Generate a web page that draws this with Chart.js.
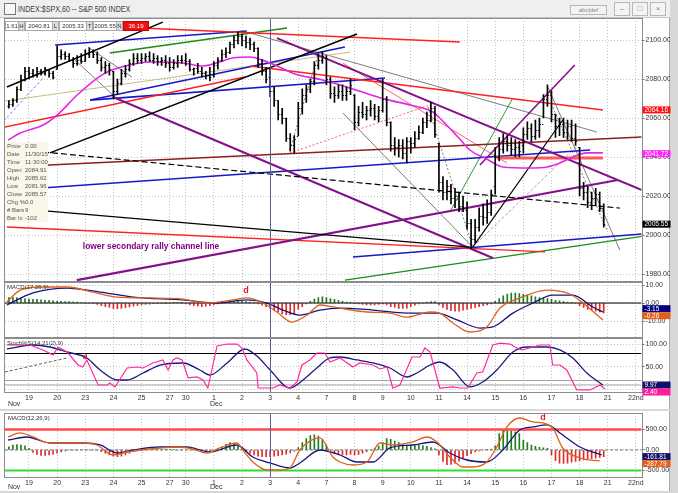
<!DOCTYPE html>
<html>
<head>
<meta charset="utf-8">
<script src="https://cdn.jsdelivr.net/npm/chart.js@4.4.1/dist/chart.umd.min.js"></script>
<style>
  html, body { margin: 0; padding: 0; }
  body { width: 678px; height: 493px; position: relative; overflow: hidden; background: #d8d8d8;
         font-family: "Liberation Sans", Arial, sans-serif; }
  canvas { position: absolute; left: 0; }
  .win { position: absolute; left: 0; width: 669px; background: #fff; border-right: 1px solid #a8a8a8; }
  #title { position: absolute; left: 0; top: 0; width: 670px; height: 17px; background: #efefef;
           border-bottom: 1px solid #c4c4c4; font-size: 9.5px; color: #404040; }
  #title .txt { position: absolute; left: 18px; top: 3px; white-space: nowrap; transform: scaleX(0.75); transform-origin: left top; }
  #title .ico { position: absolute; left: 4px; top: 3px; width: 10px; height: 10px; border: 1px solid #777; background: #f8f8f8; }
  .btn { position: absolute; top: 2px; width: 14px; height: 12px; border: 1px solid #b8b8b8; background: #f4f4f4;
         font-size: 8px; color: #888; text-align: center; line-height: 12px; }
  #info { position: absolute; top: 21px; left: 5px; height: 9px; font-size: 6px; color: #333; }
  #info span { position: absolute; top: 0; height: 8px; line-height: 8px; border: 1px solid #aaa; text-align: center; }
  #info .lab { background: #dcdcdc; width: 5px; }
  #info .val { background: #fff; }
  #tip { position: absolute; left: 5px; top: 142px; width: 43px; height: 80px; background: #fbf6ea;
         font-size: 6px; line-height: 8px; color: #555; }
  #tip div { position: relative; height: 8px; }
  #tip b { font-weight: normal; position: absolute; left: 2px; }
  #tip i { font-style: normal; position: absolute; left: 20px; }
  .cap { position: absolute; font-size: 6px; color: #333; }
</style>
</head>
<body>
<div class="win" style="top:0;height:409px;"></div>
<div class="win" style="top:411px;height:80px;"></div>
<div id="title"><div class="ico"></div><div class="txt">INDEX:$SPX,60 -- S&amp;P 500 INDEX</div>
  <div class="btn" style="left:570px;width:35px;height:8px;top:5px;line-height:8px;font-size:6px;">abc|def</div>
  <div class="btn" style="left:614px;">&#8211;</div>
  <div class="btn" style="left:632px;">&#9633;</div>
  <div class="btn" style="left:650px;">&#215;</div>
</div>

<canvas id="cMain" width="678" height="265" style="top:17px"></canvas>
<canvas id="cMacd1" width="678" height="56" style="top:282px"></canvas>
<canvas id="cStoch" width="678" height="72" style="top:338px"></canvas>
<canvas id="cMacd2" width="678" height="80" style="top:412px"></canvas>

<div id="info">
  <span class="val" style="left:0;width:12px;">1.61</span>
  <span class="lab" style="left:13px;">H</span>
  <span class="val" style="left:20px;width:26px;">2040.81</span>
  <span class="lab" style="left:47px;">L</span>
  <span class="val" style="left:54px;width:26px;">2005.33</span>
  <span class="lab" style="left:81px;">T</span>
  <span class="val" style="left:88px;width:22px;">2005.55</span>
  <span class="lab" style="left:111px;">N</span>
  <span class="val" style="left:118px;width:24px;background:#f01010;color:#fff;border-color:#c00;">36.19</span>
</div>

<div id="tip">
  <div><b>Price</b><i>0.00</i></div>
  <div><b>Date</b><i>11/30/15</i></div>
  <div><b>Time</b><i>11:30:00</i></div>
  <div><b>Open</b><i>2084.91</i></div>
  <div><b>High</b><i>2085.62</i></div>
  <div><b>Low</b><i>2081.96</i></div>
  <div><b>Close</b><i>2085.57</i></div>
  <div><b>Chg %</b><i>0.0</i></div>
  <div><b># Bars</b><i>9</i></div>
  <div><b>Bar Ix</b><i>-102</i></div>
</div>

<div class="cap" style="left:7px;top:284px;">MACD(17,26,9)</div>
<div class="cap" style="left:7px;top:340px;">Stoch%S(14,21(2),9)</div>
<div class="cap" style="left:8px;top:415px;">MACD(12,26,9)</div>

<script>
// hourly bars, index 0 = first bar of Nov 19 (Nov 18 = -5..-1)
const firstBar = -5;
const opens = [
  2066,2067,2069,2075,2080,
  2084,2083,2082,2084,2083,2085,2083,
  2085,2092,2093,2092,2090,2088,2090,
  2089,2093,2094,2093,2090,2086,2087,
  2084,2074,2078,2083,2085,2088,2091,
  2090,2091,2092,2090,2091,2089,2090,
  2088,2086,2088,2090,
  2090,2089,2084.91,2085.5,2084,2083,2082,
  2082,2087,2090,2093,2094,2098,2100,
  2102,2100,2099,2098,2096,2088,2084,
  2081,2074,2069,2062,2060,2050,2046,
  2051,2065,2072,2075,2079,2087,2090,
  2091,2080,2073,2072,2074,2072,2074,
  2072,2058,2063,2062,2064,2065,2061,
  2064,2070,2058,2046,2045,2046,2042,
  2048,2047,2050,2053,2058,2059,2065,
  2047,2027,2022,2025,2019,2020,2015,
  2013,2006,1998,2004,2010,2009,2012,
  2025,2040,2044,2048,2046,2044,2045,
  2046,2052,2055,2051,2054,2057,2070,
  2072,2062,2056,2057,2053,2056,2050,
  2045,2024,2022,2017,2019,2021,2014
];
const highs = [
  2069,2070,2076,2082,2086,
  2086,2085,2086,2085,2086,2085,2084,
  2097,2095,2094,2093,2091,2092,2093,
  2095,2096,2095,2094,2091,2089,2088,
  2084,2080,2085,2087,2090,2093,2093,
  2093,2093,2094,2093,2092,2091,2092,
  2091,2090,2092,2092,
  2093,2090,2085.62,2088,2086,2084,2086,
  2089,2091,2095,2096,2099,2102,2104,
  2103,2102,2101,2099,2096,2090,2086,
  2085,2076,2069,2065,2060,2052,2051,
  2068,2075,2077,2080,2089,2093,2094,
  2092,2081,2076,2077,2077,2076,2080,
  2072,2066,2068,2066,2069,2067,2066,
  2080,2071,2058,2050,2049,2049,2050,
  2050,2053,2056,2060,2063,2068,2066,
  2047,2030,2028,2026,2024,2022,2020,
  2017,2008,2008,2014,2016,2018,2023,
  2045,2050,2052,2051,2050,2049,2048,
  2055,2058,2057,2059,2060,2072,2077,
  2074,2062,2060,2060,2059,2059,2057,
  2045,2027,2025,2022,2024,2022,2016
];
const lows = [
  2065,2066,2068,2074,2079,
  2080,2081,2081,2082,2082,2081,2080,
  2085,2090,2090,2089,2086,2087,2088,
  2089,2091,2091,2088,2084,2083,2082,
  2070,2072,2077,2081,2084,2087,2088,
  2088,2089,2089,2088,2087,2087,2086,
  2084,2085,2086,2088,
  2087,2084,2081.96,2083,2081,2080,2079,
  2081,2085,2089,2091,2093,2096,2098,
  2097,2096,2095,2094,2086,2082,2078,
  2071,2066,2059,2057,2048,2043,2042,
  2051,2062,2068,2073,2077,2085,2088,
  2077,2070,2068,2070,2069,2069,2072,
  2054,2056,2060,2059,2061,2059,2058,
  2063,2056,2043,2041,2040,2039,2037,
  2042,2045,2049,2052,2055,2058,2050,
  2022,2018,2018,2016,2014,2012,2012,
  2003,1993,1996,2002,2005,2006,2010,
  2021,2038,2042,2043,2041,2040,2040,
  2042,2049,2048,2049,2050,2060,2066,
  2058,2050,2051,2050,2049,2048,2046,
  2020,2018,2014,2013,2015,2012,2004
];
const closes = [
  2067,2069,2075,2080,2084,
  2083,2082,2084,2083,2085,2083,2081,
  2092,2093,2092,2090,2088,2090,2089,
  2093,2094,2093,2090,2086,2087,2085,
  2074,2078,2083,2085,2088,2091,2090,
  2091,2092,2090,2091,2089,2090,2088,
  2086,2088,2090,2090,
  2089,2085,2085.57,2084,2083,2082,2081,
  2087,2090,2093,2094,2098,2100,2102,
  2100,2099,2098,2096,2088,2084,2080,
  2074,2069,2062,2060,2050,2046,2049,
  2065,2072,2075,2079,2087,2090,2092,
  2080,2073,2072,2074,2072,2074,2077,
  2058,2063,2062,2064,2065,2061,2064,
  2070,2058,2046,2045,2046,2042,2048,
  2047,2050,2053,2058,2059,2065,2052,
  2027,2022,2025,2019,2020,2015,2014,
  2006,1998,2004,2010,2009,2012,2021,
  2040,2044,2048,2046,2044,2045,2043,
  2052,2055,2051,2054,2057,2070,2072,
  2062,2056,2057,2053,2056,2050,2048,
  2024,2022,2017,2019,2021,2014,2005.55
];

// date axis
const dayStarts = [0,7,14,21,28,35,39,46,53,60,67,74,81,88,95,102,109,116,123,130,137,144,151];
const dayLabels = ['19','20','23','24','25','27','30','1','2','3','4','7','8','9','10','11','14','15','16','17','18','21','22nd'];
const monthLabels = ['Nov','Dec'];
const monthAt = [-3.7, 46.6];
const markerBar = 60;

// magenta moving average, read at points
const maIdx = [-5.2,-2.2,3.5,7,12,17,20,25,30,38.3,43.3,50.7,55,58,61.7,66.2,73,80.6,88.6,94.8,100.5,102.2,106.5,109.7,113.9,117.9,124.6,128.9,132.1,135.3,138.8,142.8];
const maVal = [2048.7,2052.3,2056.4,2061.5,2071.8,2080.5,2084.1,2087.2,2088.7,2088.2,2086.7,2090.8,2091.3,2089.7,2086.7,2082.6,2079.5,2074.9,2069.7,2066.7,2063.1,2060,2050.8,2043.6,2039,2034.9,2034.4,2034.9,2036.9,2040,2042.1,2042.1];

// trendlines: [bar1, price1, bar2, price2]
const trendEnds = [
  [-5.5, 2075.9, 33.3, 2109.2],
  [5.2, 2042.1, 81.6, 2103.1],
  [-4, 2013.8, 109.7, 1993.8],
  [3.5, 2042.6, 147, 2013.8],
  [110.4, 1993.8, 132.8, 2059],
  [61.7, 2101, 152.5, 2023.1],
  [20.9, 2070.8, 115.4, 1988.2],
  [11.9, 1976.9, 146.5, 2028.2],
  [112.2, 2035.9, 135.8, 2087.2],
  [-6, 2109.2, 107.2, 2099],
  [-6, 2055.4, 53.7, 2081],
  [55, 2086.7, 142.8, 2064.1],
  [-5.5, 2004.1, 128.4, 1991.3],
  [116.4, 2039.5, 142.8, 2039.5],
  [-5.5, 2034.9, 152.5, 2050.3],
  [64.9, 2042.1, 99.8, 2066.7],
  [78.1, 2088.2, 118.9, 2036.9],
  [6.5, 2097.4, 54.2, 2104.6],
  [15.2, 2069.2, 78.6, 2096.4],
  [15.2, 2069.2, 88.6, 2080.5],
  [-4, 2023.1, 139.6, 2043.6],
  [80.6, 1988.7, 152.5, 2000.5],
  [20.1, 2093.3, 64.2, 2106.2],
  [104.7, 2011.8, 120.4, 2070.3],
  [78.6, 1976.9, 152.5, 1999.3],
  [-6, 2068.7, 79.9, 2093.8],
  [55, 2103.6, 141.3, 2052.8],
  [78.1, 2062.6, 110.4, 1993.8],
  [129.1, 2075.9, 147, 1992.3],
  [130.3, 2065.6, 143.8, 2002.6],
  [99.3, 2065.6, 110.4, 1993.8],
  [64.9, 2043.6, 71.9, 2092.3],
  [111.4, 1995.8, 136.3, 2045.6],
  [10.9, 2090.8, 21.4, 2070.8],
  [14.7, 2096.4, 25.6, 2081],
  [-7.2, 2056.4, 3.5, 2080.5]
];
const K = '#000000', P = '#86108a', R = '#ff2020', DR = '#8e1e1e', B = '#1818c8', G = '#1a8c1a', T = '#444444';
const trendStyles = [
  {c: K, w: 1.5}, {c: K, w: 1.5}, {c: K, w: 1.2}, {c: K, w: 1.2, d: [6, 3]}, {c: K, w: 1.2},
  {c: P, w: 2}, {c: P, w: 2}, {c: P, w: 2.2}, {c: P, w: 1.6},
  {c: R, w: 1.5}, {c: R, w: 1.5}, {c: R, w: 1.5}, {c: R, w: 1.3}, {c: '#ff5a5a', w: 3},
  {c: DR, w: 1.5}, {c: R, w: 0.7, d: [2, 2]}, {c: R, w: 0.7},
  {c: B, w: 1.5}, {c: B, w: 1.6}, {c: B, w: 1.6}, {c: B, w: 1.5}, {c: B, w: 1.5},
  {c: G, w: 1.5}, {c: G, w: 0.9}, {c: G, w: 1.2},
  {c: '#c2b470', w: 0.9},
  {c: T, w: 0.7}, {c: T, w: 0.7}, {c: T, w: 0.7}, {c: T, w: 0.7, d: [2, 2]}, {c: T, w: 0.7, d: [2, 2]},
  {c: T, w: 0.7, d: [2, 2]}, {c: '#b070c0', w: 0.8, d: [3, 2]},
  {c: T, w: 0.7}, {c: T, w: 0.7}, {c: '#4848ff', w: 0.7, d: [3, 2]}
];
const mainTagValues = [2064.16, 2041.72, 2005.55];
const yTicksMain = [1980, 2000, 2020, 2040, 2060, 2080, 2100];

// MACD(17,26,9)
const macd1Idx = [-5.5,-2.2,2.7,9.5,15.9,21.9,30.1,38.3,44.3,50.7,54.2,58.2,61.7,65.4,69.2,72.4,75.6,84.1,89.8,94,99.8,102.2,105.5,109.7,113.9,117.2,122.1,128.9,134.6,137.8,142.8];
const macd1Val = [0.6,7.2,8.9,8.9,6.1,3.3,2.8,2.2,0,1.7,2.8,0,-5,-10.6,-6.7,-1.1,-2.2,-5,-5.6,-7.8,-5,-5.6,-11.1,-16.1,-13.3,-2.8,2.8,7.2,5,0,-9.4];
const sig1Idx = [-5.5,1,9.5,17.7,25.9,38.3,46.8,54.2,59.2,63.2,67.4,72.4,77.4,85.6,94,101.5,106.5,112.2,115.4,120.4,125.4,130.3,135.3,140.3,142.8];
const sig1Val = [-1.1,5.6,8.3,6.1,3.3,1.7,0,1.7,0,-3.9,-6.7,-3.9,-2.8,-3.9,-5.6,-5.6,-9.4,-13.9,-13.3,-5.6,0,4.4,4.4,-2.2,-5];
const hist1 = [
  3,3,3,2.8,2.5,
  2.2,2,2,1.8,1.5,1.5,1.2,
  1,1,0.8,0.8,0.6,0.5,0.3,
  0,0,-0.3,-0.8,-1.5,-2,-2.5,
  -3,-3.2,-3,-2.6,-2.2,-1.8,-1.4,
  -1,-0.8,-0.6,-0.4,-0.3,-0.2,-0.1,
  0,0.2,0.2,0.1,
  -0.5,-1,-1.5,-1.8,-2,-1.8,-1.5,
  -1,-0.5,0,0.5,0.8,1,1,
  1,0.8,0.5,0.2,-0.5,-1.2,-2,
  -3,-4,-5,-6,-6.5,-6.5,-6,
  -3.5,-2,-0.5,1,2.2,3,3.5,
  3,2.5,2,1.5,1,0.5,0.2,
  -0.2,-0.5,-0.8,-1,-1,-1,-0.8,
  -0.5,-1,-2,-2.5,-3,-3,-2.8,
  -2,-1.2,-0.5,0,0.5,0.8,0.8,
  -1,-2.5,-3.5,-4.2,-4.5,-4.5,-4,
  -3.5,-3,-2.5,-2,-1.5,-1,-0.5,
  1,2.5,4,5,5.5,5.5,5.2,
  4.8,4.4,4,3.5,3,2.8,2.5,
  2,1.5,1.2,0.8,0.5,0.2,0,
  -1.5,-2.5,-3.5,-4,-4.5,-5,-5.5
];
const macd1Tags = [-3.15, -0.26];

// Stochastic
const kIdx = [-5.5,0.25,3.5,6,7.2,9.5,12.2,13.4,14.4,17.2,19.4,20.1,21.4,24.4,26.9,28.4,30.8,33.3,34.6,35.8,36.8,38.1,39.6,41.8,43.3,44.5,46.8,49.3,51.7,53,54.2,56.7,57,60.7,62.4,64.9,66.7,67.9,69.9,71.6,73.6,74.9,77.4,80.6,82.3,85.6,87.3,89.1,90.5,92.3,95.3,97.3,98.5,99.8,102.2,105.5,107.2,109.2,111.4,112.9,115.4,117.2,119.7,120.9,122.6,124.6,127.1,129.6,130.3,132.1,133.8,136.3,139.6,142.1,143.3];
const kVal = [98.9,98.9,87.8,76.7,94.4,83.3,54.4,50,65.6,10,10,14.4,5.6,47.8,50,47.8,58.9,65.6,43.3,65.6,70,65.6,25.6,27.8,21.1,3.3,96.7,101,101,92,65.6,36.7,3.3,3.3,10,3.3,16.7,54.4,65.6,81.1,81.1,61.1,70,50,58.9,54.4,45.6,50,3.3,10,72.2,72.2,92.2,83.3,3.3,5.6,3.3,3.3,36.7,38.9,98.9,103,101,94.4,87.8,92.2,98.9,98.9,54.4,54.4,43.3,-1,-1,10,1];
const dIdx = [-5.5,1,5.2,9.5,14.4,17.7,21.9,24.4,28.4,32.6,38.3,42.5,45,49.3,53.7,56.7,60,64.9,68.2,71.6,74.9,77.4,81.6,85.6,89.8,94,96.5,99.8,102.2,105.5,109.7,112.9,116.4,120.4,123.9,128.9,132.1,135.3,138.8,142.8];
const dVal = [90,98.9,94.4,83.3,70,43.3,21.1,21.1,36.7,54.4,58.9,43.3,32.2,58.9,90,74.4,43.3,3.3,21.1,47.8,70,72.2,65.6,58.9,47.8,27.8,36.7,54.4,61.1,43.3,5.6,16.7,43.3,83.3,94.4,94.4,87.8,70,36.7,10];
const stochLevels = [80, 20, 10];
const stochTrend = [-6, 38.9, 9.5, 70];
const stochTags = [9.97, 2.40];

// MACD(12,26,9)
const macd2Idx = [-5.2,-2.2,1,5.2,9.5,14.4,16.9,20.9,24.4,27.6,32.6,36.8,40.8,44.3,47.5,51.7,53.2,55.7,59.2,62.4,64.9,67.4,72.4,75.6,77.4,80.6,84.1,87.3,90.5,95.5,99,101.5,104.7,108,110.4,113.9,116.4,118.9,122.1,125.4,127.9,130.3,132.8,137.1,142];
const macd2Val = [317,415,317,171,171,171,122,-122,-49,0,49,73,24,-73,49,171,0,-293,-488,-488,-439,0,293,-171,-293,-366,-293,171,122,195,317,195,-171,-415,-415,-293,73,561,780,683,659,537,49,-195,-268];
const sig2Idx = [-5.2,-0.5,5.2,13.4,17.7,21.9,25.9,32.6,39.3,45,51.7,55.7,60,64.9,67.4,72.4,77.4,81.6,85.6,89.8,95.5,100.5,104.7,109,113.9,117.9,122.1,125.4,128.9,132.1,137.1,142.5];
const sig2Val = [244,317,171,171,122,-73,0,73,73,-49,122,-171,-317,-439,-317,0,-122,-293,-293,49,122,195,-73,-244,-293,0,488,561,610,415,73,-122];
const hist2 = [
  80,120,130,120,100,
  40,-60,-110,-130,-130,-120,-100,
  -80,-50,-20,0,0,0,0,
  0,0,0,0,-40,-80,-120,
  -150,-160,-150,-120,-80,-40,-20,
  -10,0,10,10,10,10,10,
  10,10,0,0,
  0,0,0,0,-20,-40,-60,
  -40,20,80,140,180,160,100,
  40,-40,-80,-120,-150,-160,-160,
  -160,-150,-140,-120,-100,-70,-30,
  60,180,280,350,370,340,260,
  120,0,-80,-110,-120,-120,-110,
  -120,-110,-80,-40,0,40,100,
  180,280,260,220,180,140,110,
  100,110,120,110,90,60,30,
  -120,-280,-360,-350,-320,-270,-200,
  -140,-90,-50,-20,0,10,20,
  100,400,480,500,470,440,400,
  240,180,120,90,65,50,40,
  -120,-260,-320,-330,-320,-300,-280,
  -260,-240,-230,-210,-200,-180,-160
];
const macd2Levels = [500, -500, 0];
const macd2Tags = [-161.81, -287.79];

const xMin = -5.97, xMax = 152.4;
const barIdx = closes.map((_, k) => firstBar + k);

Chart.defaults.font.family = '"Liberation Sans", Arial, sans-serif';
Chart.defaults.font.size = 7;
Chart.defaults.color = '#333';

const framePlugin = {
  id: 'frame',
  afterDraw(chart) {
    const {ctx, chartArea: a} = chart;
    ctx.save();
    ctx.strokeStyle = '#8c8c8c';
    ctx.lineWidth = 1;
    ctx.strokeRect(Math.round(a.left) - 0.5, Math.round(a.top) + 0.5, Math.round(a.right - a.left) + 1, Math.round(a.bottom - a.top) - 1);
    ctx.restore();
  }
};
const markerPlugin = {
  id: 'marker',
  afterDatasetsDraw(chart) {
    const {ctx, chartArea: a, scales: {x}} = chart;
    const px = Math.round(x.getPixelForValue(markerBar)) + 0.5;
    ctx.save();
    ctx.strokeStyle = '#5c5c9c';
    ctx.lineWidth = 1;
    ctx.beginPath(); ctx.moveTo(px, a.top); ctx.lineTo(px, a.bottom); ctx.stroke();
    ctx.restore();
  }
};
const tagPlugin = {
  id: 'tags',
  afterDraw(chart, args, o) {
    if (!o || !o.values) return;
    const {ctx, chartArea: a, scales: {y}} = chart;
    let prev = -1e9;
    ctx.save();
    ctx.font = '6.5px "Liberation Sans", Arial, sans-serif';
    ctx.textBaseline = 'middle';
    o.values.forEach((v, k) => {
      let top = y.getPixelForValue(v) - 3.5;
      if (top < prev) top = prev;
      ctx.fillStyle = o.colors[k];
      ctx.fillRect(a.right + 1, top, 28, 7);
      ctx.fillStyle = '#fff';
      ctx.fillText(v.toFixed(2), a.right + 3, top + 3.8);
      prev = top + 7;
    });
    ctx.restore();
  }
};
const notePlugin = {
  id: 'notes',
  afterDatasetsDraw(chart, args, o) {
    if (!o || !o.items) return;
    const {ctx, scales: {x, y}} = chart;
    ctx.save();
    o.items.forEach(n => {
      ctx.font = n.font;
      ctx.fillStyle = n.color;
      ctx.textAlign = n.align || 'center';
      ctx.textBaseline = 'middle';
      ctx.fillText(n.text, x.getPixelForValue(n.at), y.getPixelForValue(n.level));
    });
    ctx.restore();
  }
};
const monthPlugin = {
  id: 'months',
  afterDraw(chart, args, o) {
    if (!o || !o.show) return;
    const {ctx, chartArea: a, scales: {x}} = chart;
    ctx.save();
    ctx.font = '7px "Liberation Sans", Arial, sans-serif';
    ctx.fillStyle = '#333';
    ctx.textAlign = 'center';
    ctx.textBaseline = 'middle';
    monthLabels.forEach((m, k) => ctx.fillText(m, x.getPixelForValue(monthAt[k]), a.bottom + o.dy));
    ctx.restore();
  }
};
// open/close ticks of the price bars
const ohlcPlugin = {
  id: 'ohlc',
  afterDatasetsDraw(chart, args, o) {
    if (!o || !o.on) return;
    const {ctx, chartArea: a, scales: {x, y}} = chart;
    ctx.save();
    ctx.beginPath(); ctx.rect(a.left, a.top, a.right - a.left, a.bottom - a.top); ctx.clip();
    ctx.strokeStyle = '#000';
    ctx.lineWidth = 0.9;
    ctx.beginPath();
    barIdx.forEach((b, k) => {
      const px = x.getPixelForValue(b);
      const yo = Math.round(y.getPixelForValue(opens[k])) + 0.5;
      const yc = Math.round(y.getPixelForValue(closes[k])) + 0.5;
      ctx.moveTo(px - 1.5, yo); ctx.lineTo(px, yo);
      ctx.moveTo(px, yc); ctx.lineTo(px + 1.5, yc);
    });
    ctx.stroke();
    ctx.restore();
  }
};

function series(idx, val, color, width, smooth) {
  return {type: 'line', data: idx.map((v, k) => ({x: v, y: val[k]})), borderColor: color, borderWidth: width,
          pointRadius: 0, cubicInterpolationMode: smooth ? 'monotone' : 'default', tension: 0, order: 1};
}
function level(v, color, width, dash) {
  return {type: 'line', data: [{x: xMin, y: v}, {x: xMax, y: v}], borderColor: color, borderWidth: width,
          borderDash: dash || [], pointRadius: 0, order: 3};
}
function histogram(values, up, down) {
  return {type: 'bar', data: values.map((v, k) => ({x: barIdx[k], y: v})),
          backgroundColor: values.map(v => v >= 0 ? up : down), barThickness: 1, grouped: false, order: 5};
}

function options(yMin, yMax, yTicks, axisH, padTop, plugins) {
  return {
    responsive: false, animation: false, events: [],
    layout: {padding: {left: 5, right: 8, top: padTop, bottom: 0}},
    plugins: Object.assign({legend: {display: false}, tooltip: {enabled: false}}, plugins),
    scales: {
      x: {
        type: 'linear', min: xMin, max: xMax, offset: false,
        afterBuildTicks: s => { s.ticks = dayStarts.map(v => ({value: v})); },
        ticks: {display: axisH > 0, autoSkip: false, maxRotation: 0, minRotation: 0, padding: 1,
                callback: v => dayLabels[dayStarts.indexOf(v)], color: '#333', font: {size: 7}},
        grid: {color: '#c4c4c4', drawTicks: false, offset: false},
        border: {display: false, dash: [1, 2]},
        afterFit: s => { s.height = axisH; s.paddingLeft = 0; s.paddingRight = 0; }
      },
      y: {
        position: 'right', min: yMin, max: yMax,
        afterBuildTicks: s => { s.ticks = yTicks.map(v => ({value: v})); },
        ticks: {callback: v => v.toFixed(2), padding: 1, color: '#333', font: {size: 7}},
        grid: {color: '#c4c4c4', tickLength: 3, tickColor: '#666'},
        border: {display: false, dash: [1, 2]},
        afterFit: s => { s.width = 28.5; s.paddingTop = 0; s.paddingBottom = 0; }
      }
    }
  };
}
const allPlugins = [framePlugin, markerPlugin, tagPlugin, notePlugin, monthPlugin, ohlcPlugin];

// price panel
new Chart(document.getElementById('cMain'), {
  type: 'bar',
  data: {datasets: [
    {type: 'bar', data: barIdx.map((b, k) => ({x: b, y: [lows[k], highs[k]]})), backgroundColor: '#000',
     barThickness: 1, grouped: false, order: 0},
    Object.assign(series(maIdx, maVal, '#e426e4', 1.6, true), {order: 1}),
    ...trendEnds.map((t, k) => ({type: 'line', data: [{x: t[0], y: t[1]}, {x: t[2], y: t[3]}],
       borderColor: trendStyles[k].c, borderWidth: trendStyles[k].w, borderDash: trendStyles[k].d || [],
       pointRadius: 0, order: 2}))
  ]},
  options: options(1975.9, 2111.3, yTicksMain, 0, 1, {
    tags: {values: mainTagValues, colors: ['#ff1010', '#ff22ff', '#000000']},
    notes: {items: [{text: 'lower secondary rally channel line', at: 13.4, level: 1993.8, align: 'left',
                     font: 'bold 8.4px "Liberation Sans", Arial, sans-serif', color: '#800080'}]},
    ohlc: {on: true}
  }),
  plugins: allPlugins
});

// MACD(17,26,9)
new Chart(document.getElementById('cMacd1'), {
  type: 'bar',
  data: {datasets: [
    series(macd1Idx, macd1Val, '#e0601a', 1.3, true),
    series(sig1Idx, sig1Val, '#151580', 1.3, true),
    level(0, '#000', 1.2),
    histogram(hist1, '#1f7d1f', '#e02a2a')
  ]},
  options: options(-19.44, 11.67, [-10, 0, 10], 0, 0, {
    tags: {values: macd1Tags, colors: ['#000080', '#e2601a']},
    notes: {items: [{text: 'd', at: 54, level: 6.7, font: 'bold 9px "Liberation Sans", Arial, sans-serif', color: '#e02020'}]}
  }),
  plugins: allPlugins
});

// Stochastic
new Chart(document.getElementById('cStoch'), {
  type: 'bar',
  data: {datasets: [
    series(kIdx, kVal, '#ff2a9c', 1.2, false),
    series(dIdx, dVal, '#1a1a80', 1.3, true),
    level(stochLevels[0], '#000', 1.2),
    level(stochLevels[1], '#a0a0a0', 1),
    level(stochLevels[2], '#a0a0a0', 1),
    {type: 'line', data: [{x: stochTrend[0], y: stochTrend[1]}, {x: stochTrend[2], y: stochTrend[3]}],
     borderColor: '#333', borderWidth: 0.8, borderDash: [3, 2], pointRadius: 0, order: 2}
  ]},
  options: options(-7.8, 114.4, [0, 50, 100], 17, 0, {
    tags: {values: stochTags, colors: ['#10106a', '#ff1aa0']},
    notes: {items: [{text: 'd', at: 13.9, level: 72, font: 'bold 8px "Liberation Sans", Arial, sans-serif', color: '#e02020'}]},
    months: {show: true, dy: 11}
  }),
  plugins: allPlugins
});

// MACD(12,26,9)
new Chart(document.getElementById('cMacd2'), {
  type: 'bar',
  data: {datasets: [
    series(macd2Idx, macd2Val, '#e0601a', 1.3, true),
    series(sig2Idx, sig2Val, '#151580', 1.3, true),
    level(macd2Levels[0], '#ff4a4a', 2.5),
    level(macd2Levels[1], '#2ee02e', 2),
    level(macd2Levels[2], '#555', 0.8, [3, 2]),
    histogram(hist2, '#1f7d1f', '#e02a2a')
  ]},
  options: options(-683, 902, [-500, 0, 500], 14, 1, {
    tags: {values: macd2Tags, colors: ['#10106a', '#e2601a']},
    notes: {items: [{text: 'd', at: 127.9, level: 780, font: 'bold 9px "Liberation Sans", Arial, sans-serif', color: '#e02020'}]},
    months: {show: true, dy: 9}
  }),
  plugins: allPlugins
});
</script>
</body>
</html>
